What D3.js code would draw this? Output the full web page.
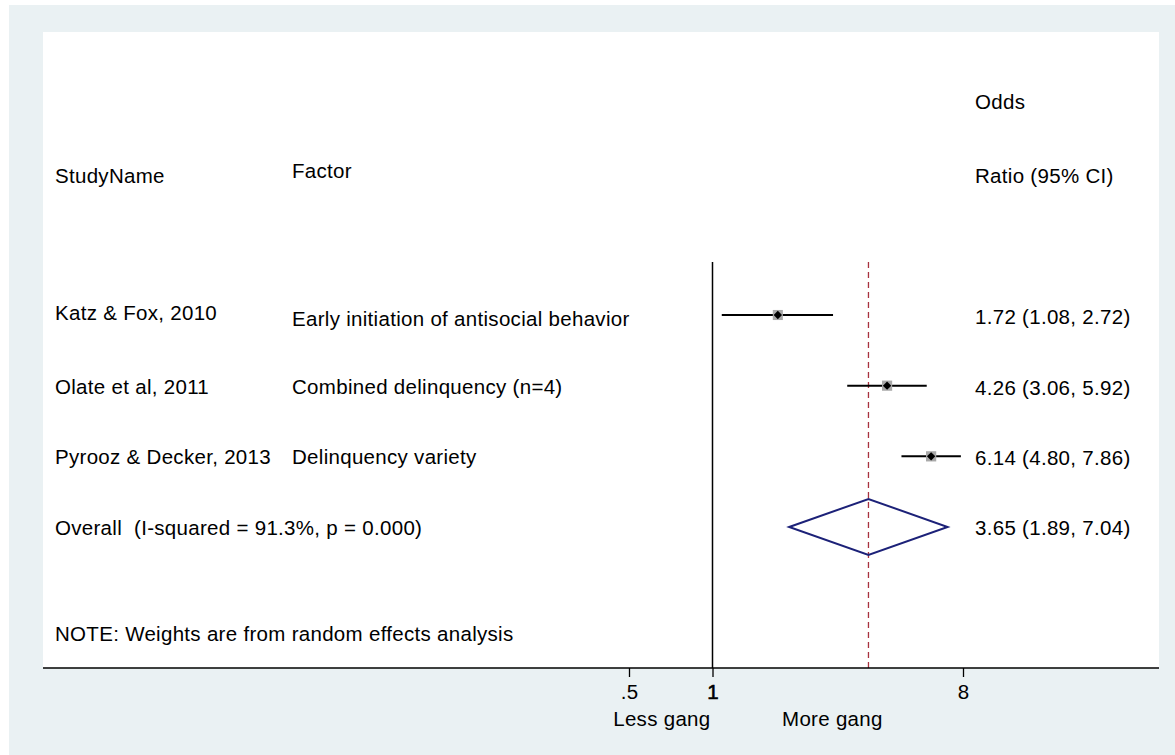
<!DOCTYPE html>
<html>
<head>
<meta charset="utf-8">
<script src="https://cdn.jsdelivr.net/npm/d3@7"></script>
<style>
  html, body { margin: 0; padding: 0; background: #ffffff; }
  svg text { font-family: "Liberation Sans", Arial, sans-serif; fill: #000; white-space: pre; letter-spacing: 0.3px; }
</style>
</head>
<body>
<svg id="chart" width="1175" height="755"></svg>
<script>
// ---- data ----
const studyNames = ["Katz & Fox, 2010", "Olate et al, 2011", "Pyrooz & Decker, 2013"];
const factors = ["Early initiation of antisocial behavior", "Combined delinquency (n=4)", "Delinquency variety"];
const oddsRatio = [1.72, 4.26, 6.14];
const ciLower = [1.08, 3.06, 4.80];
const ciUpper = [2.72, 5.92, 7.86];
const weights = [32.8, 33.4, 33.8];
const overallLabel = "Overall  (I-squared = 91.3%, p = 0.000)";
const overallES = [3.65, 1.89, 7.04]; // estimate, lower, upper
const tickValues = [0.5, 1, 8];
const tickLabels = [".5", "1", "8"];
const favourLabels = ["Less gang", "More gang"];
const noteText = "NOTE: Weights are from random effects analysis";

const svg = d3.select("#chart");
const FS = 20.5;

// backgrounds
svg.append("rect").attr("x", 9).attr("y", 5).attr("width", 1166).attr("height", 750).attr("fill", "#eaf1f3");
svg.append("rect").attr("x", 43).attr("y", 32).attr("width", 1116).attr("height", 636).attr("fill", "#ffffff");

// scales
const x = d3.scaleLog().base(2).domain([0.5, 8]).range([629, 963]);
const y = d3.scaleLinear().domain([0, 3]).range([315, 527]);
const boxSize = d3.scaleSqrt().domain([0, 35]).range([0, 10.4]);

const yTop = 262, yAxis = 668;

// headers
svg.append("text").attr("x", 55).attr("y", 183).attr("font-size", FS).text("StudyName");
svg.append("text").attr("x", 292).attr("y", 178).attr("font-size", FS).text("Factor");
svg.append("text").attr("x", 975).attr("y", 109).attr("font-size", FS).text("Odds");
svg.append("text").attr("x", 975).attr("y", 183).attr("font-size", FS).text("Ratio (95% CI)");

// null line
svg.append("line").attr("x1", x(1)).attr("x2", x(1)).attr("y1", yTop).attr("y2", yAxis)
  .attr("stroke", "#000").attr("stroke-width", 1.5);
// overall dashed line
svg.append("line").attr("x1", x(overallES[0])).attr("x2", x(overallES[0])).attr("y1", yTop).attr("y2", yAxis)
  .attr("stroke", "#a8323f").attr("stroke-width", 1.3).attr("stroke-dasharray", "6,4");

// study rows
const rows = d3.range(studyNames.length);
const g = svg.append("g");
g.selectAll(".sname").data(rows).join("text")
  .attr("x", 55).attr("y", i => y(i) + (i === 0 ? 5 : 8)).attr("font-size", FS)
  .text(i => studyNames[i]);
g.selectAll(".factor").data(rows).join("text")
  .attr("x", 292).attr("y", i => y(i) + (i === 0 ? 11 : 8)).attr("font-size", FS)
  .text(i => factors[i]);
g.selectAll(".ci").data(rows).join("line")
  .attr("x1", i => x(ciLower[i])).attr("x2", i => x(ciUpper[i]))
  .attr("y1", i => y(i)).attr("y2", i => y(i))
  .attr("stroke", "#000").attr("stroke-width", 2);
g.selectAll(".box").data(rows).join("rect")
  .attr("x", i => x(oddsRatio[i]) - boxSize(weights[i]) / 2)
  .attr("y", i => y(i) - boxSize(weights[i]) / 2)
  .attr("width", i => boxSize(weights[i])).attr("height", i => boxSize(weights[i]))
  .attr("fill", "#a9a9a9");
g.selectAll(".pt").data(rows).join("path")
  .attr("transform", i => `translate(${x(oddsRatio[i])},${y(i)})`)
  .attr("d", "M0,-4.2L4.2,0L0,4.2L-4.2,0Z")
  .attr("fill", "#000");
g.selectAll(".val").data(rows).join("text")
  .attr("x", 975).attr("y", i => y(i) + 9).attr("font-size", FS)
  .text(i => `${oddsRatio[i].toFixed(2)} (${ciLower[i].toFixed(2)}, ${ciUpper[i].toFixed(2)})`);

// overall
const yo = y(3);
svg.append("text").attr("x", 55).attr("y", yo + 8).attr("font-size", FS).text(overallLabel);
svg.append("path")
  .attr("d", `M${x(overallES[1])},${yo}L${x(overallES[0])},${yo - 28}L${x(overallES[2])},${yo}L${x(overallES[0])},${yo + 28}Z`)
  .attr("fill", "none").attr("stroke", "#1c2178").attr("stroke-width", 2);
svg.append("text").attr("x", 975).attr("y", yo + 8).attr("font-size", FS)
  .text(`${overallES[0].toFixed(2)} (${overallES[1].toFixed(2)}, ${overallES[2].toFixed(2)})`);

// note
svg.append("text").attr("x", 55).attr("y", 641).attr("font-size", FS).text(noteText);

// axis
svg.append("line").attr("x1", 43).attr("x2", 1159).attr("y1", yAxis).attr("y2", yAxis)
  .attr("stroke", "#000").attr("stroke-width", 1.5);
const axis = d3.axisBottom(x).tickValues(tickValues).tickFormat((d, i) => tickLabels[i]).tickSize(9).tickPadding(4);
const ag = svg.append("g").attr("transform", `translate(0,${yAxis})`).call(axis);
ag.select(".domain").remove();
ag.selectAll(".tick line").attr("stroke", "#000").attr("stroke-width", 1.3);
ag.selectAll(".tick text").attr("font-size", FS).attr("fill", "#000")
  .attr("font-family", "Liberation Sans, Arial, sans-serif")
  .attr("dy", "0.9em")
  .attr("stroke", (d) => d === 1 ? "#000" : null).attr("stroke-width", d => d === 1 ? 0.6 : null);

svg.append("text").attr("x", x(1) - 2).attr("y", 726).attr("font-size", FS).attr("text-anchor", "end").text(favourLabels[0]);
svg.append("text").attr("x", 782).attr("y", 726).attr("font-size", FS).text(favourLabels[1]);
</script>
</body>
</html>
